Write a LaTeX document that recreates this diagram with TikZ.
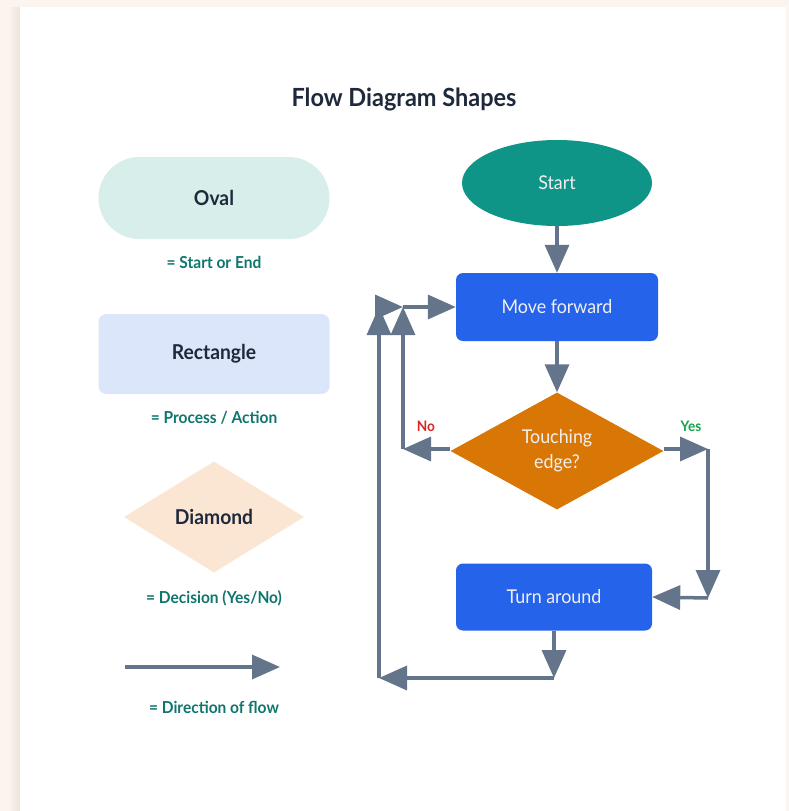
\documentclass[tikz,border=0pt]{standalone}
\usepackage{fontspec}
\setmainfont{Lato}[FakeStretch=0.94]
\usepackage{tikz}
\usetikzlibrary{shapes.geometric, arrows.meta, positioning}

\definecolor{cream}{HTML}{FCF4EE}
\definecolor{shade}{HTML}{EDE3DA}
\definecolor{inkdark}{HTML}{1E293B}
\definecolor{captionteal}{HTML}{0F766E}
\definecolor{ovalkeyfill}{HTML}{D8EEEA}
\definecolor{rectkeyfill}{HTML}{DCE6FA}
\definecolor{diamkeyfill}{HTML}{FAE6D3}
\definecolor{startfill}{HTML}{0F9488}
\definecolor{processfill}{HTML}{2563EB}
\definecolor{decisionfill}{HTML}{D97706}
\definecolor{flowline}{HTML}{64748B}
\definecolor{nored}{HTML}{DC2626}
\definecolor{yesgreen}{HTML}{16A34A}

\tikzset{
  keytext/.style={text=inkdark, font=\fontsize{20.5}{24}\selectfont\bfseries},
  captiontext/.style={text=captionteal, font=\fontsize{16.5}{19}\selectfont\bfseries},
  flowtext/.style={text=white!94!black, font=\fontsize{19}{25}\selectfont, align=center},
  flowarrow/.style={draw=flowline, line width=3.5pt, -{Triangle[length=28pt,width=24pt]}},
  processbox/.style={flowtext, fill=processfill, rounded corners=7pt, inner sep=0pt},
}

\begin{document}
\begin{tikzpicture}[x=1pt,y=-1pt]
\useasboundingbox (0,0) rectangle (789,811);
\fill [cream] (0,0) rectangle (789,811);
\shade [left color=cream, right color=shade] (8,7) rectangle (20,811);
\fill [white] (20,7) rectangle (786,811);

\node (title) at (404,99) {\fontsize{25}{29}\selectfont\bfseries\color{inkdark}Flow Diagram Shapes};

% legend
\node [keytext, fill=ovalkeyfill, rounded corners=41pt, minimum width=231pt, minimum height=82pt] (ovalkey) at (214,198) {Oval};
\node [captiontext] (ovalcap) at (214,262) {= Start or End};
\node [keytext, fill=rectkeyfill, rounded corners=8pt, minimum width=231pt, minimum height=80pt] (rectkey) at (214,354) {Rectangle};
\node [captiontext] (rectcap) at (214,418) {= Process / Action};
\node [keytext, diamond, fill=diamkeyfill, inner sep=0pt, aspect=1.6, minimum width=180pt, minimum height=111pt] (diamkey) at (214,517) {Diamond};
\node [captiontext] (diamcap) at (214,598) {= Decision (Yes/No)};
\coordinate (keytail) at (125,667);
\coordinate (keyhead) at (280,667);
\draw [flowarrow] (keytail) -- (keyhead);
\node [captiontext] (arrowcap) at (214,707) {= Direction of flow};

% flow chart
\node [flowtext, ellipse, fill=startfill, inner sep=0pt, minimum width=190pt, minimum height=86pt] (start) at (557,183) {Start};
\node [processbox, minimum width=202pt, minimum height=68pt] (move) at (557,307) {Move forward};
\node [flowtext, diamond, fill=decisionfill, inner sep=0pt, aspect=1.8, minimum width=213pt, minimum height=117pt] (touch) at (557,451) {Touching\\edge?};
\node [processbox, minimum width=196pt, minimum height=67pt] (turn) at (554,597) {Turn around};

\coordinate (nocorner) at (403,449);
\coordinate (nojoin) at (403,307);
\coordinate (loopjoin) at (379,307);
\coordinate (loopcorner) at (379,678);
\coordinate (turncorner) at (554,678);
\coordinate (yescorner) at (708,449);
\coordinate (yesdown) at (708,598);

\draw [flowarrow] (start) -- (move);
\draw [flowarrow] (move) -- (touch);
\draw [flowarrow] (touch.west |- nocorner) -- (nocorner);
\draw [flowarrow] (nocorner) -- (nojoin);
\draw [flowarrow] (nojoin) -- (move.west);
\draw [flowarrow] (touch.east |- yescorner) -- (yescorner);
\draw [flowarrow] (yescorner) -- (yesdown);
\draw [flowarrow] (yesdown) -- (turn.east);
\draw [flowarrow] (turn) -- (turncorner);
\draw [flowarrow] (turncorner) -- (loopcorner);
\draw [flowarrow] (loopcorner) -- (loopjoin);
\draw [flowarrow] (loopjoin) -- (nojoin);

\node [text=nored, font=\fontsize{14.5}{17}\selectfont\bfseries] (nolabel) at (426,426) {No};
\node [text=yesgreen, font=\fontsize{14.5}{17}\selectfont\bfseries] (yeslabel) at (691,426) {Yes};
\end{tikzpicture}
\end{document}
